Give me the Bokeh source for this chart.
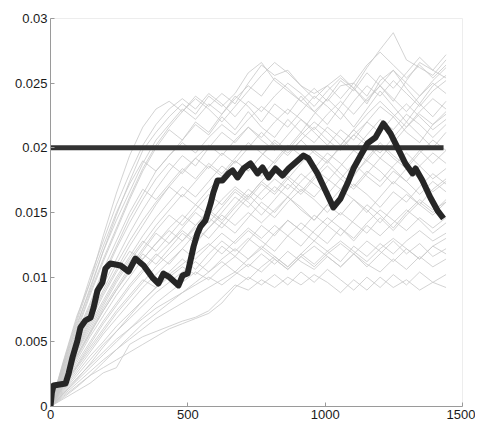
from bokeh.plotting import figure
from bokeh.models import Range1d, FixedTicker
from bokeh.embed import file_html
from bokeh.resources import INLINE

# ---- data (y values in thousandths for gray walks; converted below) ----
GRAY_X = [0, 48, 96, 144, 192, 240, 288, 336, 384, 432, 480, 528, 576, 624, 672, 720,
          768, 816, 864, 912, 960, 1008, 1056, 1104, 1152, 1200, 1248, 1296, 1344, 1392, 1440]

walk_a = [0, 3.6, 7.0, 9.6, 13.2, 16.5, 19.4, 21.6, 23.0, 23.6, 22.8, 24.0, 23.2, 24.2, 23.4, 25.0, 26.4, 25.6, 26.0, 24.8, 24.2, 24.8, 25.6, 24.6, 26.2, 27.6, 28.9, 26.8, 26.2, 25.6, 26.8]
walk_b = [0, 3.2, 6.4, 9.0, 12.0, 14.8, 17.4, 19.8, 21.2, 22.4, 23.4, 22.6, 24.0, 23.2, 24.2, 25.8, 26.6, 25.2, 24.4, 23.6, 22.8, 23.8, 25.2, 24.4, 25.8, 24.8, 23.6, 25.2, 26.6, 26.0, 27.2]
walk_c = [0, 3.0, 5.8, 8.6, 11.2, 13.6, 16.0, 18.2, 20.0, 21.4, 20.6, 22.0, 21.2, 22.6, 24.0, 23.2, 22.0, 23.4, 22.6, 24.0, 22.8, 21.8, 23.2, 24.6, 23.4, 25.2, 26.0, 24.6, 23.4, 24.8, 25.6]
walk_d = [0, 2.8, 5.4, 7.8, 10.2, 12.4, 14.6, 16.4, 18.2, 19.4, 20.6, 21.8, 21.0, 22.4, 21.4, 22.8, 21.6, 20.8, 22.2, 21.2, 22.6, 23.8, 22.8, 21.6, 23.0, 24.4, 23.2, 22.0, 23.4, 22.4, 23.6]
walk_e = [0, 2.6, 5.0, 7.2, 9.4, 11.4, 13.4, 15.2, 16.8, 18.2, 19.4, 18.6, 20.0, 21.2, 20.4, 21.6, 20.6, 19.8, 21.0, 22.2, 21.2, 20.2, 21.4, 20.6, 22.0, 23.2, 22.4, 21.2, 20.4, 21.8, 22.6]
walk_f = [0, 2.4, 4.6, 6.8, 8.8, 10.6, 12.4, 14.0, 15.6, 17.0, 18.2, 19.2, 18.4, 19.6, 18.8, 20.0, 21.2, 20.2, 19.4, 20.6, 19.6, 18.8, 20.2, 21.4, 20.4, 19.6, 20.8, 22.0, 21.0, 20.0, 21.2]
walk_g = [0, 2.2, 4.4, 6.4, 8.2, 10.0, 11.6, 13.2, 14.6, 15.8, 17.0, 16.2, 17.4, 18.6, 17.8, 18.8, 17.8, 19.0, 20.2, 19.4, 18.4, 19.6, 18.8, 17.8, 19.2, 20.4, 19.4, 18.6, 19.8, 18.8, 19.8]
walk_h = [0, 2.0, 4.0, 5.8, 7.6, 9.2, 10.8, 12.2, 13.6, 14.8, 14.0, 15.2, 16.4, 15.6, 16.8, 16.0, 17.2, 16.4, 17.6, 16.6, 17.8, 19.0, 18.0, 17.0, 18.2, 17.4, 18.6, 19.6, 18.6, 17.6, 18.4]
walk_i = [0, 1.8, 3.6, 5.4, 7.0, 8.6, 10.0, 11.4, 12.6, 13.8, 14.8, 14.0, 15.0, 14.2, 15.4, 16.4, 15.4, 14.6, 15.8, 16.8, 16.0, 15.0, 16.2, 17.2, 16.4, 15.4, 16.6, 15.8, 17.0, 18.0, 17.2]
walk_j = [0, 1.6, 3.2, 4.8, 6.4, 7.8, 9.2, 10.4, 11.6, 12.6, 13.6, 12.8, 13.8, 14.8, 14.0, 15.0, 14.2, 15.2, 16.2, 15.4, 14.4, 15.6, 14.8, 16.0, 15.2, 14.2, 15.4, 16.4, 15.6, 14.8, 15.8]
walk_k = [0, 1.4, 2.8, 4.2, 5.6, 6.8, 8.0, 9.2, 10.2, 11.2, 12.2, 11.4, 12.4, 13.4, 12.6, 13.6, 12.8, 12.0, 13.2, 14.2, 13.4, 12.6, 13.8, 13.0, 14.2, 15.2, 14.4, 13.6, 14.6, 13.8, 14.6]
walk_l = [0, 1.2, 2.4, 3.6, 4.8, 5.8, 6.8, 7.8, 8.8, 9.6, 10.4, 11.2, 10.4, 11.4, 12.2, 11.4, 12.4, 11.6, 10.8, 11.8, 12.8, 12.0, 11.2, 12.4, 11.6, 12.6, 11.8, 12.8, 13.6, 12.8, 13.4]
walk_m = [0, 0.8, 1.6, 2.4, 3.0, 3.6, 4.2, 4.8, 5.4, 6.0, 6.4, 6.8, 7.2, 8.0, 9.2, 10.0, 9.4, 10.2, 9.4, 10.4, 9.6, 10.6, 9.8, 9.0, 10.0, 9.2, 10.2, 9.4, 10.4, 9.6, 10.2]
walk_n = [0, 0.6, 1.2, 1.8, 2.6, 3.0, 4.8, 5.4, 5.8, 6.2, 6.6, 6.9, 7.4, 8.4, 9.4, 9.0, 9.8, 9.2, 10.0, 9.4, 10.2, 9.6, 8.8, 9.8, 9.0, 10.0, 9.2, 9.8, 9.0, 9.6, 9.2]
walk_o = [0, 1.0, 2.0, 3.0, 4.0, 5.0, 6.0, 7.0, 8.0, 8.8, 9.6, 10.4, 9.8, 10.8, 11.6, 10.8, 11.8, 11.0, 12.0, 11.2, 10.6, 11.6, 10.8, 11.8, 11.0, 10.4, 11.4, 10.6, 11.6, 10.8, 11.4]
walk_p = [0, 3.4, 6.6, 9.6, 12.4, 15.0, 17.2, 19.0, 18.2, 19.4, 20.4, 19.6, 20.8, 21.8, 21.0, 22.2, 23.2, 22.4, 21.6, 22.8, 24.0, 23.2, 22.2, 23.6, 24.8, 24.0, 25.2, 24.2, 23.2, 24.4, 25.2]
walk_q = [0, 2.9, 5.6, 8.0, 10.6, 12.8, 15.0, 16.8, 16.0, 17.2, 18.4, 17.6, 18.8, 18.0, 19.2, 20.4, 19.6, 18.8, 20.0, 21.2, 20.4, 21.6, 20.8, 19.8, 21.0, 22.2, 21.4, 22.6, 21.8, 20.8, 21.8]
walk_r = [0, 2.3, 4.5, 6.6, 8.6, 10.4, 12.0, 11.4, 12.6, 13.6, 12.8, 14.0, 15.2, 14.4, 15.6, 16.8, 16.0, 17.0, 16.2, 17.4, 18.4, 17.6, 16.8, 18.0, 19.0, 18.2, 17.2, 18.4, 17.6, 16.6, 17.4]
walk_s = [0, 1.9, 3.8, 5.6, 7.4, 9.0, 10.4, 11.8, 11.0, 12.2, 13.4, 12.6, 13.8, 15.0, 16.2, 15.4, 16.6, 17.6, 16.8, 18.0, 17.2, 16.4, 17.6, 18.8, 17.8, 17.0, 18.2, 17.4, 16.4, 17.4, 16.6]
walk_t = [0, 1.3, 2.6, 3.9, 5.0, 6.2, 7.2, 8.2, 9.2, 10.0, 10.8, 10.2, 11.2, 12.4, 11.6, 12.8, 14.0, 13.2, 14.4, 13.6, 14.8, 14.0, 13.2, 14.4, 15.6, 14.8, 13.8, 15.0, 16.0, 15.2, 15.8]
walk_u = [0, 0.9, 1.8, 2.7, 3.6, 4.4, 5.2, 6.0, 6.8, 7.4, 8.0, 8.6, 9.2, 9.8, 10.4, 9.8, 10.8, 11.6, 10.8, 11.8, 11.0, 12.0, 12.8, 12.0, 11.2, 12.2, 13.0, 12.2, 11.4, 12.4, 11.8]
walk_v = [0, 3.3, 6.2, 9.2, 12.0, 14.4, 16.6, 18.8, 20.6, 21.8, 23.0, 22.2, 23.4, 22.6, 23.8, 24.8, 24.0, 25.4, 24.6, 23.6, 24.6, 23.6, 24.8, 25.0, 24.0, 25.6, 24.6, 25.8, 27.0, 26.0, 25.4]
walk_w = [0, 1.7, 3.4, 5.0, 6.6, 8.0, 9.4, 10.6, 11.8, 11.0, 12.2, 13.4, 14.6, 13.8, 15.0, 16.2, 17.4, 16.6, 17.8, 17.0, 16.2, 17.4, 18.6, 19.8, 19.0, 20.2, 19.2, 18.4, 19.6, 20.6, 19.8]
walk_x = [0, 2.1, 4.2, 6.0, 7.8, 9.6, 11.2, 12.6, 14.0, 15.2, 16.4, 15.6, 16.8, 17.8, 19.0, 18.2, 19.4, 20.6, 19.8, 21.0, 22.0, 21.2, 20.2, 21.4, 22.6, 23.6, 22.6, 21.6, 22.8, 23.8, 23.0]
walk_y = [0, 1.1, 2.2, 3.2, 4.2, 5.2, 6.0, 6.8, 7.6, 8.2, 8.8, 9.4, 10.0, 9.4, 10.2, 11.0, 10.4, 11.4, 10.6, 11.6, 12.4, 11.6, 10.8, 11.8, 12.8, 12.0, 11.2, 12.2, 11.4, 12.4, 13.0]
walk_z1 = [0, 2.7, 5.2, 7.6, 10.0, 12.2, 14.2, 16.0, 17.6, 18.8, 18.0, 19.2, 20.2, 19.4, 20.6, 21.6, 20.8, 22.0, 23.0, 22.2, 21.4, 22.6, 23.6, 22.6, 23.8, 24.8, 23.8, 22.8, 24.0, 25.0, 24.2]
walk_z2 = [0, 2.5, 4.8, 7.0, 9.0, 11.0, 12.8, 14.4, 15.8, 17.0, 16.2, 17.4, 18.6, 17.8, 19.0, 18.2, 19.4, 20.4, 19.6, 20.6, 21.6, 20.6, 19.8, 21.0, 22.0, 21.2, 22.4, 23.4, 22.4, 21.4, 22.2]
walk_z3 = [0, 2.0, 3.9, 5.7, 7.4, 9.0, 10.6, 12.0, 13.4, 12.6, 13.8, 15.0, 14.2, 15.4, 16.6, 15.8, 14.8, 16.0, 17.2, 16.4, 17.6, 18.6, 17.6, 16.8, 18.0, 19.2, 18.4, 17.4, 18.6, 19.6, 18.8]
walk_z4 = [0, 1.5, 3.0, 4.4, 5.8, 7.2, 8.4, 9.6, 10.8, 11.8, 12.8, 13.8, 13.0, 14.2, 13.4, 14.6, 15.8, 15.0, 16.2, 15.2, 14.4, 15.6, 16.8, 16.0, 15.0, 16.2, 17.4, 16.6, 15.6, 16.8, 17.6]
walk_z5 = [0, 3.5, 6.8, 10.0, 12.8, 15.6, 18.0, 20.2, 21.8, 23.0, 23.8, 23.0, 24.2, 23.4, 22.4, 23.6, 22.8, 24.0, 25.0, 24.2, 23.2, 24.4, 25.4, 24.6, 23.6, 24.8, 26.0, 25.0, 24.0, 25.2, 26.2]
walk_z6 = [0, 1.0, 2.1, 3.3, 4.6, 5.8, 7.0, 8.2, 9.2, 10.2, 11.0, 11.8, 12.6, 11.8, 12.8, 13.8, 13.0, 14.0, 13.2, 12.4, 13.6, 14.6, 13.8, 12.8, 14.0, 13.2, 14.2, 15.2, 14.4, 13.4, 14.2]
walk_z7 = [0, 2.2, 4.3, 6.2, 8.0, 9.8, 11.4, 12.8, 12.0, 13.2, 14.4, 15.6, 14.8, 16.0, 17.0, 16.2, 17.4, 18.4, 17.6, 18.8, 19.8, 19.0, 20.0, 21.0, 20.2, 19.2, 20.4, 21.6, 22.6, 21.8, 22.8]
walk_z8 = [0, 1.6, 3.1, 4.6, 6.0, 7.4, 8.6, 9.8, 9.2, 10.4, 11.4, 10.6, 11.8, 12.8, 12.0, 13.0, 12.2, 13.4, 14.4, 13.6, 12.8, 14.0, 15.0, 14.2, 13.4, 14.6, 13.6, 14.8, 15.8, 15.0, 16.0]
walk_z9 = [0, 3.1, 6.0, 8.8, 11.4, 13.8, 16.2, 18.4, 20.2, 21.6, 22.8, 23.8, 23.0, 22.0, 23.2, 24.4, 25.6, 26.6, 25.8, 24.8, 23.8, 24.8, 23.8, 25.0, 26.4, 27.4, 26.4, 25.4, 26.4, 25.4, 26.4]
walk_z10 = [0, 0.7, 1.5, 2.4, 3.4, 4.4, 5.4, 6.4, 7.2, 8.0, 8.8, 9.6, 10.4, 11.2, 10.4, 11.4, 12.2, 11.4, 10.6, 11.6, 10.8, 11.8, 12.6, 11.8, 10.8, 11.8, 12.8, 11.8, 12.6, 11.6, 12.2]

GRAY_WALKS = [walk_a, walk_b, walk_c, walk_d, walk_e, walk_f, walk_g, walk_h, walk_i,
              walk_j, walk_k, walk_l, walk_m, walk_n, walk_o, walk_p, walk_q, walk_r,
              walk_s, walk_t, walk_u, walk_v, walk_w, walk_x, walk_y,
              walk_z1, walk_z2, walk_z3, walk_z4, walk_z5, walk_z6, walk_z7, walk_z8,
              walk_z9, walk_z10]

# highlighted path
PATH_X = [0, 5, 11, 55, 66, 80, 98, 109, 127, 146, 157, 171, 189, 200, 218, 255, 284, 309,
          339, 371, 393, 411, 430, 466, 481, 499, 521, 535, 546, 564, 583, 593, 608, 626,
          648, 663, 681, 703, 728, 754, 772, 794, 819, 845, 867, 892, 921, 939, 972, 1001,
          1030, 1056, 1081, 1103, 1129, 1154, 1183, 1212, 1238, 1263, 1292, 1318, 1329,
          1354, 1383, 1409, 1431]
PATH_Y = [0, 0.00108, 0.00162, 0.00178, 0.00255, 0.00379, 0.00510, 0.00611, 0.00665,
          0.00688, 0.00765, 0.00897, 0.00959, 0.01067, 0.01106, 0.01090, 0.01044, 0.01144,
          0.01090, 0.00997, 0.00951, 0.01028, 0.01005, 0.00936, 0.01013, 0.01028, 0.01237,
          0.01338, 0.01392, 0.01438, 0.01570, 0.01655, 0.01747, 0.01747, 0.01802, 0.01825,
          0.01771, 0.01840, 0.01879, 0.01802, 0.01848, 0.01771, 0.01840, 0.01786, 0.01840,
          0.01887, 0.01941, 0.01918, 0.01802, 0.01670, 0.01539, 0.01608, 0.01724, 0.01840,
          0.01941, 0.02034, 0.02080, 0.02188, 0.02111, 0.02003, 0.01879, 0.01802, 0.01840,
          0.01747, 0.01616, 0.01515, 0.01454]

# threshold line
THRESH_X = [0, 1431]
THRESH_Y = [0.02, 0.02]

X_TICKS = [0, 500, 1000, 1500]
X_TICK_LABELS = ["0", "500", "1000", "1500"]
Y_TICKS = [0, 0.005, 0.01, 0.015, 0.02, 0.025, 0.03]
Y_TICK_LABELS = ["0", "0.005", "0.01", "0.015", "0.02", "0.025", "0.03"]

FONT = "Liberation Sans"

p = figure(width=475, height=424, output_backend="svg", toolbar_location=None,
           x_range=Range1d(0, 1500), y_range=Range1d(0, 0.03),
           min_border_left=50, min_border_right=13, min_border_top=18, min_border_bottom=18)
p.background_fill_color = "white"
p.border_fill_color = "white"
p.outline_line_color = "#ededed"
p.xgrid.visible = False
p.ygrid.visible = False

for w in GRAY_WALKS:
    p.line(GRAY_X, [v / 1000.0 for v in w], line_color="#c8c8c8", line_width=0.8)

p.line(THRESH_X, THRESH_Y, line_color="#333333", line_width=5)
p.line(PATH_X, PATH_Y, line_color="#262626", line_width=6, line_join="round")

for ax, ticks, labels in ((p.xaxis[0], X_TICKS, X_TICK_LABELS), (p.yaxis[0], Y_TICKS, Y_TICK_LABELS)):
    ax.ticker = FixedTicker(ticks=ticks, minor_ticks=[])
    ax.major_label_overrides = {t: l for t, l in zip(ticks, labels)}
    ax.axis_line_color = "#9a9a9a"
    ax.major_tick_line_color = "#9a9a9a"
    ax.major_tick_in = 4
    ax.major_tick_out = 0
    ax.minor_tick_line_color = None
    ax.major_label_text_font = FONT
    ax.major_label_text_font_size = "13px"
    ax.major_label_text_color = "#1a1a1a"
    ax.major_label_standoff = 3

html = file_html(p, INLINE)
open("out.html", "w").write(html)
